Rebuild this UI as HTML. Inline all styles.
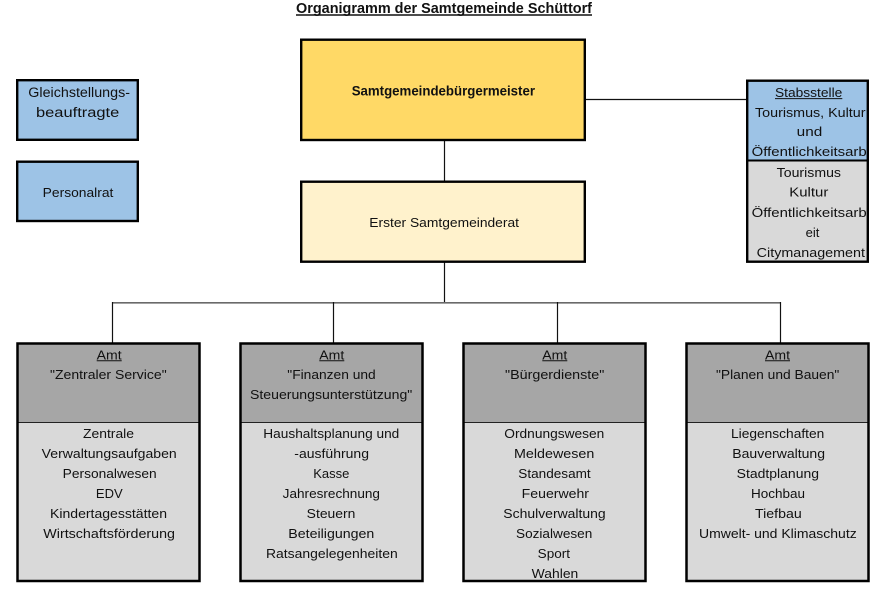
<!DOCTYPE html>
<html>
<head>
<meta charset="utf-8">
<style>
  html, body { margin:0; padding:0; background:#ffffff; }
  body { width:889px; height:605px; overflow:hidden; }
  svg { display:block; }
  text { font-family:"Liberation Sans", "DejaVu Sans", sans-serif; font-size:13px; fill:#111; }
  .b { font-weight:bold; }
</style>
</head>
<body>
<svg width="889" height="605" viewBox="0 0 889 605" xmlns="http://www.w3.org/2000/svg">
  <!-- Title -->
  <text class="b" x="296" y="13" textLength="296" lengthAdjust="spacingAndGlyphs" style="font-size:14.5px">Organigramm der Samtgemeinde Schüttorf</text>
  <line x1="296" y1="15" x2="592" y2="15" stroke="#111" stroke-width="1.4"/>

  <!-- connectors -->
  <line x1="444.5" y1="140" x2="444.5" y2="181" stroke="#111" stroke-width="1.2"/>
  <line x1="444.5" y1="262" x2="444.5" y2="303" stroke="#111" stroke-width="1.2"/>
  <line x1="585" y1="99.5" x2="746" y2="99.5" stroke="#111" stroke-width="1.2"/>
  <line x1="112" y1="302.8" x2="781" y2="302.8" stroke="#6a6a6a" stroke-width="1.6"/>
  <line x1="112.5" y1="302" x2="112.5" y2="343" stroke="#111" stroke-width="1.2"/>
  <line x1="333.5" y1="302" x2="333.5" y2="343" stroke="#111" stroke-width="1.2"/>
  <line x1="557.5" y1="302" x2="557.5" y2="343" stroke="#111" stroke-width="1.2"/>
  <line x1="780.5" y1="302" x2="780.5" y2="343" stroke="#111" stroke-width="1.2"/>

  <!-- Left boxes -->
  <rect x="17.2" y="80.2" width="120.6" height="59.6" fill="#9DC3E6" stroke="#000" stroke-width="2.4"/>
  <text x="28.3" y="97.2" textLength="101.7" lengthAdjust="spacingAndGlyphs" style="font-size:13.5px">Gleichstellungs-</text>
  <text x="36" y="117.2" textLength="83.3" lengthAdjust="spacingAndGlyphs" style="font-size:13.5px">beauftragte</text>

  <rect x="17.2" y="161.7" width="120.6" height="59.3" fill="#9DC3E6" stroke="#000" stroke-width="2.4"/>
  <text x="42.7" y="197.2" textLength="70.7" lengthAdjust="spacingAndGlyphs">Personalrat</text>

  <!-- Bürgermeister -->
  <rect x="301.2" y="39.7" width="283.6" height="100.3" fill="#FFD966" stroke="#000" stroke-width="2.4"/>
  <text class="b" x="351.7" y="95.5" textLength="183.3" lengthAdjust="spacingAndGlyphs" style="font-size:14px">Samtgemeindebürgermeister</text>

  <!-- Erster Samtgemeinderat -->
  <rect x="301.2" y="181.7" width="283.6" height="80" fill="#FFF2CC" stroke="#000" stroke-width="2.4"/>
  <text x="369.3" y="227.2" textLength="149.7" lengthAdjust="spacingAndGlyphs">Erster Samtgemeinderat</text>

  <!-- Stabsstelle -->
  <rect x="747.2" y="80.7" width="120.6" height="80" fill="#9DC3E6"/>
  <rect x="747.2" y="160.7" width="120.6" height="101" fill="#D9D9D9"/>
  <line x1="747" y1="160.5" x2="868" y2="160.5" stroke="#000" stroke-width="2"/>
  <rect x="747.2" y="80.7" width="120.6" height="181" fill="none" stroke="#000" stroke-width="2.4"/>
  <text x="775" y="97.2" textLength="67.3" lengthAdjust="spacingAndGlyphs">Stabsstelle</text>
  <line x1="775" y1="98.6" x2="842.3" y2="98.6" stroke="#111" stroke-width="1"/>
  <text x="755" y="117.2" textLength="110.5" lengthAdjust="spacingAndGlyphs">Tourismus, Kultur</text>
  <text x="796.7" y="136.2" textLength="25.6" lengthAdjust="spacingAndGlyphs">und</text>
  <text x="751.7" y="156" textLength="115" lengthAdjust="spacingAndGlyphs">Öffentlichkeitsarb</text>
  <text x="776.7" y="177" textLength="64.3" lengthAdjust="spacingAndGlyphs">Tourismus</text>
  <text x="789.3" y="196.5" textLength="39" lengthAdjust="spacingAndGlyphs">Kultur</text>
  <text x="751.7" y="217" textLength="115" lengthAdjust="spacingAndGlyphs">Öffentlichkeitsarb</text>
  <text x="812.5" y="237" text-anchor="middle">eit</text>
  <text x="756.7" y="257" textLength="108.3" lengthAdjust="spacingAndGlyphs">Citymanagement</text>

  <!-- Amt boxes -->
  <g>
    <rect x="17.5" y="343.5" width="182" height="79" fill="#A6A6A6"/>
    <rect x="17.5" y="422.5" width="182" height="158.5" fill="#D9D9D9"/>
    <line x1="17" y1="422.5" x2="200" y2="422.5" stroke="#222" stroke-width="1"/>
    <rect x="17.5" y="343.5" width="182" height="237.5" fill="none" stroke="#000" stroke-width="2.5"/>

    <rect x="240.5" y="343.5" width="182" height="79" fill="#A6A6A6"/>
    <rect x="240.5" y="422.5" width="182" height="158.5" fill="#D9D9D9"/>
    <line x1="240" y1="422.5" x2="423" y2="422.5" stroke="#222" stroke-width="1"/>
    <rect x="240.5" y="343.5" width="182" height="237.5" fill="none" stroke="#000" stroke-width="2.5"/>

    <rect x="463.5" y="343.5" width="182" height="79" fill="#A6A6A6"/>
    <rect x="463.5" y="422.5" width="182" height="158.5" fill="#D9D9D9"/>
    <line x1="463" y1="422.5" x2="646" y2="422.5" stroke="#222" stroke-width="1"/>
    <rect x="463.5" y="343.5" width="182" height="237.5" fill="none" stroke="#000" stroke-width="2.5"/>

    <rect x="686.5" y="343.5" width="182" height="79" fill="#A6A6A6"/>
    <rect x="686.5" y="422.5" width="182" height="158.5" fill="#D9D9D9"/>
    <line x1="686" y1="422.5" x2="869" y2="422.5" stroke="#222" stroke-width="1"/>
    <rect x="686.5" y="343.5" width="182" height="237.5" fill="none" stroke="#000" stroke-width="2.5"/>
  </g>

  <!-- Box 1 -->
  <text x="96.7" y="359.5" textLength="25" lengthAdjust="spacingAndGlyphs">Amt</text>
  <line x1="96.7" y1="360.8" x2="121.7" y2="360.8" stroke="#111" stroke-width="1"/>
  <text x="50" y="379" textLength="116.7" lengthAdjust="spacingAndGlyphs">"Zentraler Service"</text>
  <text x="83" y="438" textLength="51" lengthAdjust="spacingAndGlyphs">Zentrale</text>
  <text x="41.7" y="458" textLength="135" lengthAdjust="spacingAndGlyphs">Verwaltungsaufgaben</text>
  <text x="62.7" y="478" textLength="94" lengthAdjust="spacingAndGlyphs">Personalwesen</text>
  <text x="109.3" y="498" text-anchor="middle">EDV</text>
  <text x="50" y="518" textLength="117" lengthAdjust="spacingAndGlyphs">Kindertagesstätten</text>
  <text x="43.3" y="538" textLength="131.7" lengthAdjust="spacingAndGlyphs">Wirtschaftsförderung</text>

  <!-- Box 2 -->
  <text x="319.3" y="359.5" textLength="25" lengthAdjust="spacingAndGlyphs">Amt</text>
  <line x1="319.3" y1="360.8" x2="344.3" y2="360.8" stroke="#111" stroke-width="1"/>
  <text x="287.3" y="379" textLength="88.4" lengthAdjust="spacingAndGlyphs">"Finanzen und</text>
  <text x="250" y="399" textLength="162.3" lengthAdjust="spacingAndGlyphs">Steuerungsunterstützung"</text>
  <text x="263.3" y="438" textLength="136" lengthAdjust="spacingAndGlyphs">Haushaltsplanung und</text>
  <text x="294.3" y="458" textLength="74.7" lengthAdjust="spacingAndGlyphs">-ausführung</text>
  <text x="331.3" y="478" text-anchor="middle">Kasse</text>
  <text x="282.7" y="498" textLength="97.3" lengthAdjust="spacingAndGlyphs">Jahresrechnung</text>
  <text x="306.7" y="518" textLength="48.7" lengthAdjust="spacingAndGlyphs">Steuern</text>
  <text x="288.3" y="538" textLength="86" lengthAdjust="spacingAndGlyphs">Beteiligungen</text>
  <text x="266" y="558" textLength="131.7" lengthAdjust="spacingAndGlyphs">Ratsangelegenheiten</text>

  <!-- Box 3 -->
  <text x="542.3" y="359.5" textLength="25" lengthAdjust="spacingAndGlyphs">Amt</text>
  <line x1="542.3" y1="360.8" x2="567.3" y2="360.8" stroke="#111" stroke-width="1"/>
  <text x="505" y="379" textLength="99.3" lengthAdjust="spacingAndGlyphs">"Bürgerdienste"</text>
  <text x="504.3" y="438" textLength="100" lengthAdjust="spacingAndGlyphs">Ordnungswesen</text>
  <text x="514" y="458" textLength="80.3" lengthAdjust="spacingAndGlyphs">Meldewesen</text>
  <text x="518.3" y="478" textLength="72.4" lengthAdjust="spacingAndGlyphs">Standesamt</text>
  <text x="521.7" y="498" textLength="67.3" lengthAdjust="spacingAndGlyphs">Feuerwehr</text>
  <text x="503.3" y="518" textLength="102.4" lengthAdjust="spacingAndGlyphs">Schulverwaltung</text>
  <text x="516" y="538" textLength="76.3" lengthAdjust="spacingAndGlyphs">Sozialwesen</text>
  <text x="537.7" y="558" textLength="32.3" lengthAdjust="spacingAndGlyphs">Sport</text>
  <text x="531.7" y="578" textLength="46.6" lengthAdjust="spacingAndGlyphs">Wahlen</text>

  <!-- Box 4 -->
  <text x="765" y="359.5" textLength="25" lengthAdjust="spacingAndGlyphs">Amt</text>
  <line x1="765" y1="360.8" x2="790" y2="360.8" stroke="#111" stroke-width="1"/>
  <text x="716" y="379" textLength="123.3" lengthAdjust="spacingAndGlyphs">"Planen und Bauen"</text>
  <text x="731" y="438" textLength="93.3" lengthAdjust="spacingAndGlyphs">Liegenschaften</text>
  <text x="732.3" y="458" textLength="92.7" lengthAdjust="spacingAndGlyphs">Bauverwaltung</text>
  <text x="736.7" y="478" textLength="82.3" lengthAdjust="spacingAndGlyphs">Stadtplanung</text>
  <text x="751" y="498" textLength="54" lengthAdjust="spacingAndGlyphs">Hochbau</text>
  <text x="755" y="518" textLength="46.7" lengthAdjust="spacingAndGlyphs">Tiefbau</text>
  <text x="699" y="538" textLength="157.7" lengthAdjust="spacingAndGlyphs">Umwelt- und Klimaschutz</text>
</svg>
</body>
</html>
